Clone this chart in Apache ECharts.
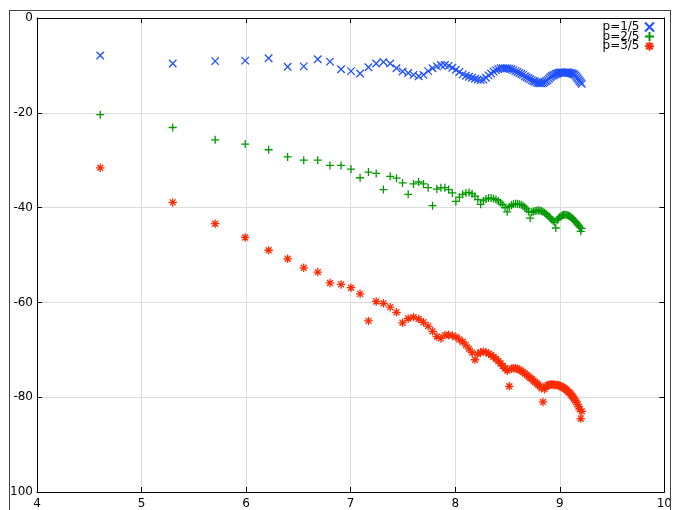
<!DOCTYPE html>
<html>
<head>
<meta charset="utf-8">
<script src="https://cdn.jsdelivr.net/npm/echarts@6/dist/echarts.min.js"></script>
<style>
  html, body { margin: 0; padding: 0; background: #fff; width: 675px; height: 510px; overflow: hidden; }
  #frame { position: absolute; left: 9px; top: 10px; width: 660px; height: 520px;
           border: 1px solid #444; border-bottom: none; overflow: hidden; }
  #chart { position: absolute; left: -10px; top: -11px; width: 675px; height: 510px; }
</style>
</head>
<body>
<div id="frame"><div id="chart"></div></div>
<script>
// x = ln(n), n = 100, 200, ..., 10000
const xValues = [
  4.605, 5.298, 5.704, 5.991, 6.215, 6.397, 6.551, 6.685, 6.802, 6.908,
  7.003, 7.090, 7.170, 7.244, 7.313, 7.378, 7.438, 7.496, 7.550, 7.601,
  7.650, 7.696, 7.741, 7.783, 7.824, 7.863, 7.901, 7.937, 7.972, 8.006,
  8.039, 8.071, 8.102, 8.132, 8.161, 8.189, 8.216, 8.243, 8.269, 8.294,
  8.319, 8.343, 8.366, 8.389, 8.412, 8.434, 8.455, 8.476, 8.497, 8.517,
  8.537, 8.556, 8.576, 8.594, 8.613, 8.631, 8.648, 8.666, 8.683, 8.700,
  8.716, 8.732, 8.748, 8.764, 8.780, 8.795, 8.810, 8.825, 8.839, 8.854,
  8.868, 8.882, 8.896, 8.909, 8.923, 8.936, 8.949, 8.962, 8.975, 8.987,
  9.000, 9.012, 9.024, 9.036, 9.048, 9.060, 9.071, 9.083, 9.094, 9.105,
  9.116, 9.127, 9.138, 9.148, 9.159, 9.170, 9.180, 9.190, 9.200, 9.210
];
const p15 = [
  -7.9, -9.6, -9.1, -9.0, -8.5, -10.3, -10.2, -8.7, -9.2, -10.8,
  -11.2, -11.7, -10.4, -9.6, -9.3, -9.6, -10.6, -11.3, -11.6, -12.0,
  -12.3, -12.0, -11.2, -10.6, -10.2, -9.9, -9.9, -10.1, -10.5, -10.9,
  -11.4, -11.9, -12.2, -12.4, -12.6, -12.8, -13.0, -13.1, -13.0, -12.6,
  -12.1, -11.7, -11.3, -11.0, -10.8, -10.6, -10.6, -10.6, -10.6, -10.7,
  -10.8, -11.0, -11.2, -11.4, -11.6, -11.8, -12.0, -12.3, -12.5, -12.7,
  -12.9, -13.1, -13.3, -13.4, -13.6, -13.7, -13.8, -13.8, -13.7, -13.5,
  -13.3, -13.1, -12.8, -12.5, -12.3, -12.1, -12.0, -11.8, -11.7, -11.6,
  -11.5, -11.5, -11.5, -11.5, -11.5, -11.5, -11.5, -11.5, -11.6, -11.6,
  -11.7, -11.8, -11.9, -12.1, -12.4, -12.7, -13.0, -13.3, -13.6, -13.9
];
const p25 = [
  -20.4, -23.1, -25.7, -26.6, -27.8, -29.3, -30.0, -30.0, -31.1, -31.1,
  -31.9, -33.7, -32.5, -32.8, -36.2, -33.4, -33.8, -34.8, -37.2, -35.0,
  -34.6, -35.0, -35.8, -39.6, -36.1, -35.8, -35.8, -36.2, -36.9, -38.7,
  -37.8, -37.2, -36.9, -36.8, -37.1, -37.6, -38.3, -39.3, -38.6, -38.2,
  -38.0, -38.0, -38.1, -38.3, -38.6, -39.0, -39.4, -40.0, -40.9, -39.8,
  -39.5, -39.3, -39.2, -39.2, -39.3, -39.4, -39.6, -39.9, -40.3, -40.8,
  -42.2, -41.0, -40.8, -40.7, -40.6, -40.6, -40.6, -40.7, -40.9, -41.1,
  -41.3, -41.6, -41.9, -42.2, -42.5, -42.8, -43.1, -44.3, -42.6, -42.3,
  -42.0, -41.8, -41.6, -41.5, -41.5, -41.5, -41.6, -41.7, -41.8, -42.0,
  -42.2, -42.4, -42.7, -42.9, -43.2, -43.5, -43.8, -44.1, -45.0, -44.4
];
const p35 = [
  -31.6, -38.9, -43.4, -46.3, -49.0, -50.8, -52.7, -53.6, -55.9, -56.2,
  -56.9, -58.2, -63.9, -59.8, -60.2, -61.0, -62.1, -64.3, -63.4, -63.1,
  -63.5, -64.2, -65.0, -66.1, -67.2, -67.6, -66.9, -66.9, -67.0, -67.3,
  -67.8, -68.3, -69.0, -69.8, -70.6, -72.1, -70.9, -70.5, -70.4, -70.5,
  -70.8, -71.1, -71.5, -71.9, -72.4, -72.9, -73.4, -73.9, -74.4, -77.7,
  -74.0, -73.9, -73.9, -74.0, -74.2, -74.4, -74.7, -75.0, -75.3, -75.6,
  -75.9, -76.2, -76.5, -76.8, -77.1, -77.4, -77.7, -78.1, -81.0, -78.3,
  -77.8, -77.5, -77.4, -77.3, -77.3, -77.3, -77.4, -77.4, -77.4, -77.5,
  -77.6, -77.7, -77.9, -78.0, -78.2, -78.4, -78.6, -78.9, -79.1, -79.4,
  -79.7, -80.0, -80.3, -80.7, -81.1, -81.5, -82.0, -82.5, -84.5, -83.0
];
const seriesNames = ['p=1/5', 'p=2/5', 'p=3/5'];
const xTicks = [4, 5, 6, 7, 8, 9, 10];
const yTicks = [0, -20, -40, -60, -80, -100];

const colors = ['#1f4fff', '#009a00', '#ff2a00'];
const symbols = [
  'path://M0,0L10,10M10,0L0,10',
  'path://M5,0L5,10M0,5L10,5',
  'path://M5,0L5,10M0,5L10,5M1.5,1.5L8.5,8.5M8.5,1.5L1.5,8.5'
];
const sizes = [7.5, 8, 8.5];
const values = [p15, p25, p35];

const chart = echarts.init(document.getElementById('chart'), null, { renderer: 'canvas' });
const font = 'DejaVu Sans';
const grid = { left: 37, top: 18, right: 6, bottom: 18 };

function pairs(ys) { return xValues.map((x, i) => [x, ys[i]]); }

const series = seriesNames.map((name, i) => ({
  name: name,
  type: 'scatter',
  symbol: symbols[i],
  symbolSize: sizes[i],
  data: pairs(values[i]),
  itemStyle: { color: 'rgba(0,0,0,0)', borderColor: colors[i], borderWidth: 1.3, opacity: 1 },
  emphasis: { disabled: true },
  silent: true,
  animation: false
}));

const legends = seriesNames.map((name, i) => ({
  data: [{ name: name, icon: symbols[i] }],
  right: 20,
  top: 21 + i * 9.6,
  align: 'right',
  orient: 'vertical',
  itemWidth: 10,
  itemHeight: 9,
  padding: 0,
  itemGap: 0,
  selectedMode: false,
  textStyle: { fontFamily: font, fontSize: 12, lineHeight: 12, color: '#000', padding: [0, 0, 0, 0] }
}));

const axisLabel = { fontFamily: font, fontSize: 12, color: '#000' };
chart.setOption({
  backgroundColor: '#fff',
  animation: false,
  grid: grid,
  legend: legends,
  xAxis: [
    {
      type: 'value', min: xTicks[0], max: xTicks[xTicks.length - 1], interval: 1,
      axisLine: { show: true, onZero: false, lineStyle: { color: '#000', width: 1 } },
      axisTick: { show: true, inside: true, length: 5, lineStyle: { color: '#000' } },
      axisLabel: Object.assign({ margin: 6 }, axisLabel),
      splitLine: { show: true, lineStyle: { color: '#dcdcdc', width: 1 } }
    },
    {
      type: 'value', position: 'top', min: xTicks[0], max: xTicks[xTicks.length - 1], interval: 1,
      axisLine: { show: true, onZero: false, lineStyle: { color: '#000', width: 1 } },
      axisTick: { show: true, inside: true, length: 5, lineStyle: { color: '#000' } },
      axisLabel: { show: false },
      splitLine: { show: false }
    }
  ],
  yAxis: [
    {
      type: 'value', min: yTicks[yTicks.length - 1], max: yTicks[0], interval: 20,
      axisLine: { show: true, onZero: false, lineStyle: { color: '#000', width: 1 } },
      axisTick: { show: true, inside: true, length: 5, lineStyle: { color: '#000' } },
      axisLabel: Object.assign({ margin: 4 }, axisLabel),
      splitLine: { show: true, lineStyle: { color: '#dcdcdc', width: 1 } }
    },
    {
      type: 'value', position: 'right', min: yTicks[yTicks.length - 1], max: yTicks[0], interval: 20,
      axisLine: { show: true, onZero: false, lineStyle: { color: '#000', width: 1 } },
      axisTick: { show: true, inside: true, length: 5, lineStyle: { color: '#000' } },
      axisLabel: { show: false },
      splitLine: { show: false }
    }
  ],
  series: series
});
</script>
</body>
</html>
